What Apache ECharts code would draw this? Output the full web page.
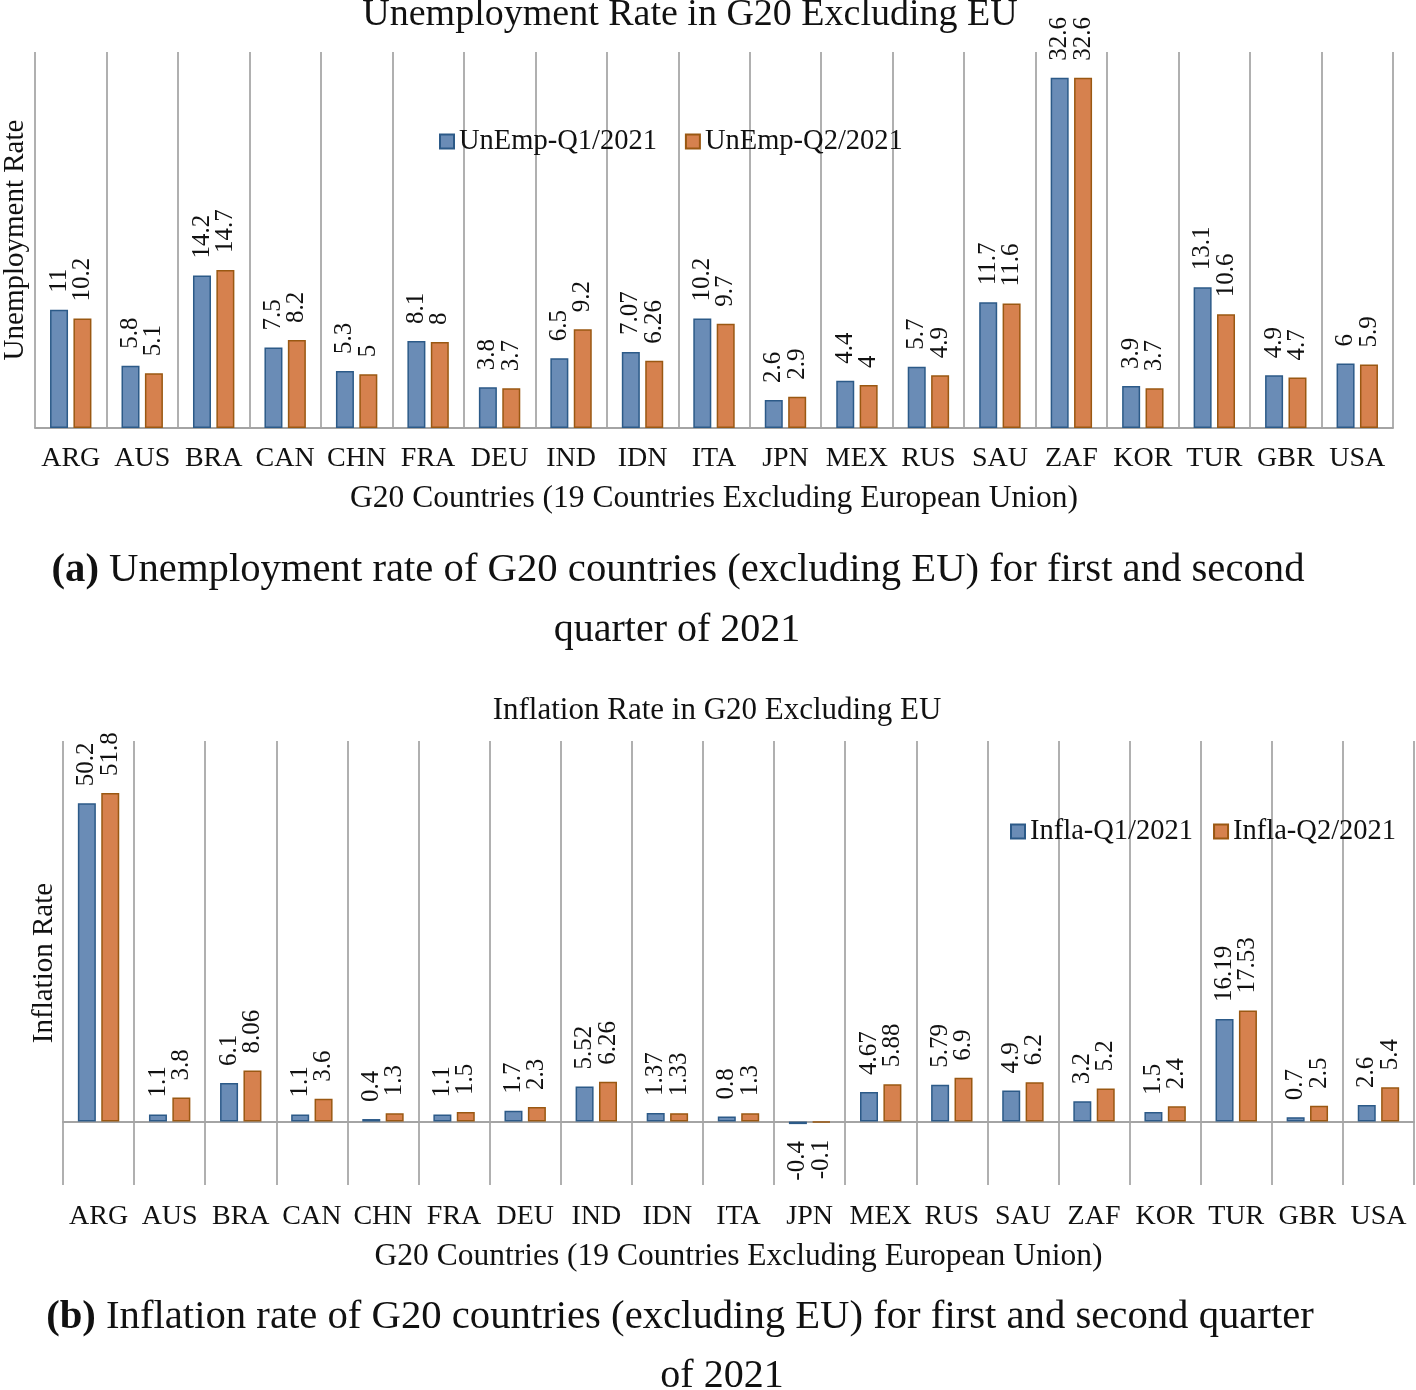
<!DOCTYPE html>
<html><head><meta charset="utf-8">
<script src="https://cdn.jsdelivr.net/npm/echarts@6/dist/echarts.min.js"></script>
<style>html,body{margin:0;padding:0;background:#fff}#c{width:1416px;height:1390px}</style>
</head><body><div id="c"></div>
<script>
const countries = ['ARG','AUS','BRA','CAN','CHN','FRA','DEU','IND','IDN','ITA','JPN','MEX','RUS','SAU','ZAF','KOR','TUR','GBR','USA'];
const unempQ1 = [11,5.8,14.2,7.5,5.3,8.1,3.8,6.5,7.07,10.2,2.6,4.4,5.7,11.7,32.6,3.9,13.1,4.9,6];
const unempQ2 = [10.2,5.1,14.7,8.2,5,8,3.7,9.2,6.26,9.7,2.9,4,4.9,11.6,32.6,3.7,10.6,4.7,5.9];
const inflaQ1 = [50.2,1.1,6.1,1.1,0.4,1.1,1.7,5.52,1.37,0.8,-0.4,4.67,5.79,4.9,3.2,1.5,16.19,0.7,2.6];
const inflaQ2 = [51.8,3.8,8.06,3.6,1.3,1.5,2.3,6.26,1.33,1.3,-0.1,5.88,6.9,6.2,5.2,2.4,17.53,2.5,5.4];
const seriesNames = ['UnEmp-Q1/2021','UnEmp-Q2/2021','Infla-Q1/2021','Infla-Q2/2021'];
const titles = ['Unemployment Rate in G20 Excluding EU','Inflation Rate in G20 Excluding EU'];
const xName = 'G20 Countries (19 Countries Excluding European Union)';
const yNames = ['Unemployment Rate','Inflation Rate'];

const FF = 'Liberation Serif';
const BLUE = {color:'#6a8cb6', borderColor:'#2c5a88', borderWidth:1.5};
const ORANGE = {color:'#d6814e', borderColor:'#9a5812', borderWidth:1.5};

function items(arr){
  return arr.map(v => v < 0 ? {value:v, label:{position:'bottom', align:'right'}} : {value:v});
}
const lbl = {show:true, position:'top', rotate:90, align:'left', verticalAlign:'middle', distance:17,
  fontSize:25, fontFamily:FF, color:'#111'};

function xAxis(gi, margin, gap){
  return {type:'category', gridIndex:gi, data:countries, boundaryGap:true,
    axisTick:{show:false},
    axisLine:{lineStyle:{color:'#a4a4a4', width:2}},
    splitLine:{show:true, lineStyle:{color:'#b0b0b0', width:2}},
    axisLabel:{interval:0, margin:margin, fontSize:28, fontFamily:FF, color:'#111'},
    name:xName, nameLocation:'middle', nameGap:gap,
    nameTextStyle:{fontSize:31.5, fontFamily:FF, color:'#111'}};
}
function yAxis(gi, min, max, name, gap){
  return {type:'value', gridIndex:gi, min:min, max:max,
    axisLine:{show:false}, axisTick:{show:false}, axisLabel:{show:false}, splitLine:{show:false},
    name:name, nameLocation:'middle', nameGap:gap,
    nameTextStyle:{fontSize:29, fontFamily:FF, color:'#111'}};
}
function bar(name, xi, data, style){
  return {type:'bar', name:name, xAxisIndex:xi, yAxisIndex:xi, data:items(data),
    barWidth:18, barGap:'30%', itemStyle:style, label:lbl, animation:false};
}

const chart = echarts.init(document.getElementById('c'), null, {renderer:'canvas'});
chart.setOption({
  backgroundColor:'#fff',
  animation:false,
  grid:[
    {left:35, top:52, width:1358, height:376, outerBoundsMode:'none', containLabel:false},
    {left:63, top:741, width:1351, height:444, outerBoundsMode:'none', containLabel:false}
  ],
  xAxis:[xAxis(0, 17, 55), xAxis(1, 18, 56)],
  yAxis:[yAxis(0, 0, 35, yNames[0], 5), yAxis(1, -10, 60, yNames[1], 4)],
  legend:[
    {data:[seriesNames[0], seriesNames[1]], icon:'rect', left:434, top:122, itemWidth:14, itemHeight:14, itemGap:28,
     textStyle:{fontSize:28.5, fontFamily:FF, color:'#111'}},
    {data:[seriesNames[2], seriesNames[3]], icon:'rect', left:1005, top:812, itemWidth:14, itemHeight:14, itemGap:20,
     textStyle:{fontSize:28.5, fontFamily:FF, color:'#111'}}
  ],
  series:[
    bar(seriesNames[0], 0, unempQ1, BLUE),
    bar(seriesNames[1], 0, unempQ2, ORANGE),
    bar(seriesNames[2], 1, inflaQ1, BLUE),
    bar(seriesNames[3], 1, inflaQ2, ORANGE)
  ],
  graphic:[
    {type:'text', x:690, y:15, style:{text:titles[0], fontSize:38, fontFamily:FF, fill:'#111', align:'center', verticalAlign:'middle'}},
    {type:'text', x:717, y:711, style:{text:titles[1], fontSize:31, fontFamily:FF, fill:'#111', align:'center', verticalAlign:'middle'}},
    {type:'text', x:678, y:570, style:{text:'{b|(a)} Unemployment rate of G20 countries (excluding EU) for first and second',
      fontSize:40.7, fontFamily:FF, fill:'#111', align:'center', verticalAlign:'middle',
      rich:{b:{fontSize:40.7, fontFamily:FF, fontWeight:'bold', fill:'#111'}}}},
    {type:'text', x:677, y:630, style:{text:'quarter of 2021', fontSize:40, fontFamily:FF, fill:'#111', align:'center', verticalAlign:'middle'}},
    {type:'text', x:680, y:1317, style:{text:'{b|(b)} Inflation rate of G20 countries (excluding EU) for first and second quarter',
      fontSize:40.7, fontFamily:FF, fill:'#111', align:'center', verticalAlign:'middle',
      rich:{b:{fontSize:40.7, fontFamily:FF, fontWeight:'bold', fill:'#111'}}}},
    {type:'text', x:722, y:1376, style:{text:'of 2021', fontSize:40, fontFamily:FF, fill:'#111', align:'center', verticalAlign:'middle'}}
  ]
});
</script></body></html>
